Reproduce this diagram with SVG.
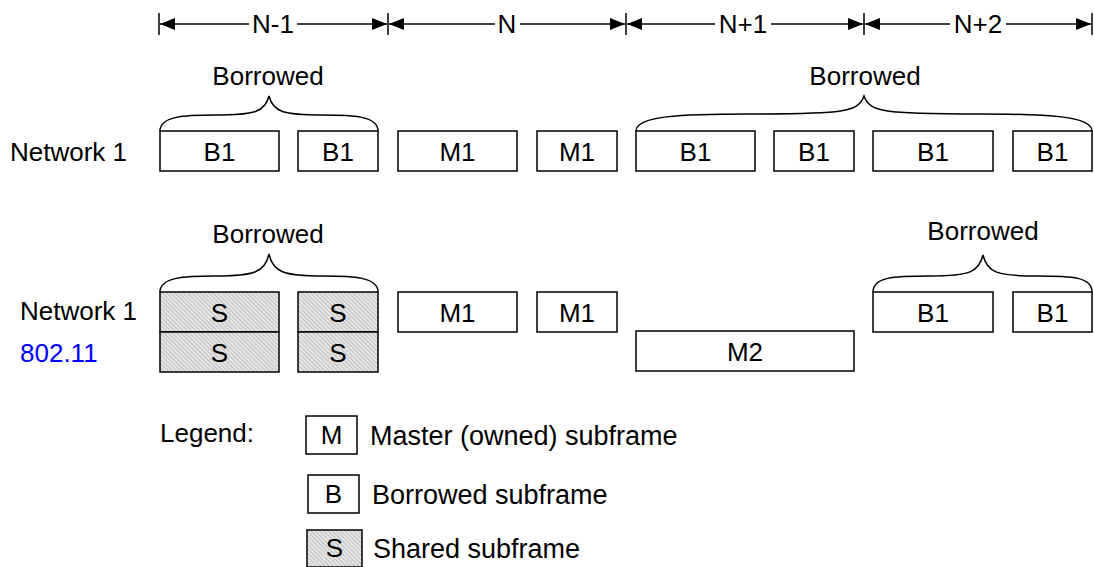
<svg xmlns="http://www.w3.org/2000/svg" width="1094" height="567" viewBox="0 0 1094 567">
<style>
text{font-family:"Liberation Sans",Arial,sans-serif;font-size:26px;fill:#000}
.c{text-anchor:middle}
.lg{font-size:27px}
.box{fill:#fff;stroke:#000;stroke-width:1.5}
.sh{fill:url(#hatch);stroke:#000;stroke-width:1.5}
.br{fill:none;stroke:#000;stroke-width:1.5}
.dim{stroke:#000;stroke-width:1.5;fill:none}
.tick{stroke:#000;stroke-width:1.5}
</style>
<defs>
<pattern id="hatch" patternUnits="userSpaceOnUse" width="3" height="3" patternTransform="rotate(-45)">
<rect width="3" height="3" fill="#e6e6e6"/>
<line x1="0" y1="0" x2="0" y2="3" stroke="#999" stroke-width="1"/>
</pattern>
<marker id="ah" markerWidth="16" markerHeight="14" refX="15" refY="7" orient="auto-start-reverse" markerUnits="userSpaceOnUse">
<path d="M0,1 L15,7 L0,13 Z" fill="#000"/>
</marker>
</defs>

<g id="connectors">
<line class="tick" x1="159" y1="13" x2="159" y2="35"/>
<line class="tick" x1="388" y1="13" x2="388" y2="35"/>
<line class="tick" x1="626" y1="13" x2="626" y2="35"/>
<line class="tick" x1="864" y1="13" x2="864" y2="35"/>
<line class="tick" x1="1092" y1="13" x2="1092" y2="35"/>
<line class="dim" x1="160" y1="24" x2="249" y2="24" marker-start="url(#ah)"/>
<line class="dim" x1="297" y1="24" x2="387" y2="24" marker-end="url(#ah)"/>
<line class="dim" x1="389" y1="24" x2="495" y2="24" marker-start="url(#ah)"/>
<line class="dim" x1="520" y1="24" x2="625" y2="24" marker-end="url(#ah)"/>
<line class="dim" x1="627" y1="24" x2="715" y2="24" marker-start="url(#ah)"/>
<line class="dim" x1="771" y1="24" x2="863" y2="24" marker-end="url(#ah)"/>
<line class="dim" x1="865" y1="24" x2="950" y2="24" marker-start="url(#ah)"/>
<line class="dim" x1="1006" y1="24" x2="1091" y2="24" marker-end="url(#ah)"/>
</g>

<g id="frame-labels">
<text class="c" x="273" y="33">N-1</text>
<text class="c" x="507" y="33">N</text>
<text class="c" x="743" y="33">N+1</text>
<text class="c" x="978" y="33">N+2</text>
</g>

<g id="braces">
<path class="br" d="M160,131 C160,116 185,115 215,115 C255,115 265,112 269,96 C273,112 283,115 323,115 C353,115 378,116 378,131"/>
<text class="c" x="268" y="85">Borrowed</text>
<path class="br" d="M636,131 C636,116 680,114 750,114 C845,114 858,112 864,96 C870,112 883,114 978,114 C1048,114 1092,116 1092,131"/>
<text class="c" x="865" y="85">Borrowed</text>
<path class="br" d="M160,292 C160,277 185,276 215,276 C255,276 265,272 269,254 C273,272 283,276 323,276 C353,276 378,277 378,292"/>
<text class="c" x="268" y="243">Borrowed</text>
<path class="br" d="M873,292 C873,277 893,276 930,276 C970,276 979,272 983,255 C987,272 996,276 1036,276 C1073,276 1092,277 1092,292"/>
<text class="c" x="983" y="240">Borrowed</text>
</g>

<g id="row1">
<text x="10" y="161">Network 1</text>
<g id="r1b1"><rect class="box" x="160" y="131" width="119" height="40"/><text class="c" x="219.5" y="161">B1</text></g>
<g id="r1b2"><rect class="box" x="298" y="131" width="80" height="40"/><text class="c" x="338" y="161">B1</text></g>
<g id="r1m1"><rect class="box" x="398" y="131" width="119" height="40"/><text class="c" x="457.5" y="161">M1</text></g>
<g id="r1m2"><rect class="box" x="537" y="131" width="80" height="40"/><text class="c" x="577" y="161">M1</text></g>
<g id="r1b3"><rect class="box" x="636" y="131" width="119" height="40"/><text class="c" x="695.5" y="161">B1</text></g>
<g id="r1b4"><rect class="box" x="774" y="131" width="80" height="40"/><text class="c" x="814" y="161">B1</text></g>
<g id="r1b5"><rect class="box" x="873" y="131" width="120" height="40"/><text class="c" x="933" y="161">B1</text></g>
<g id="r1b6"><rect class="box" x="1013" y="131" width="79" height="40"/><text class="c" x="1052.5" y="161">B1</text></g>
</g>

<g id="row2">
<text x="20" y="320">Network 1</text>
<text x="20" y="362" style="fill:#0000ff">802.11</text>
<g id="r2s1"><rect class="sh" x="160" y="292" width="119" height="40"/><text class="c" x="219.5" y="322">S</text></g>
<g id="r2s2"><rect class="sh" x="298" y="292" width="80" height="40"/><text class="c" x="338" y="322">S</text></g>
<g id="r2s3"><rect class="sh" x="160" y="332" width="119" height="40"/><text class="c" x="219.5" y="362">S</text></g>
<g id="r2s4"><rect class="sh" x="298" y="332" width="80" height="40"/><text class="c" x="338" y="362">S</text></g>
<g id="r2m1"><rect class="box" x="398" y="292" width="119" height="40"/><text class="c" x="457.5" y="322">M1</text></g>
<g id="r2m2"><rect class="box" x="537" y="292" width="80" height="40"/><text class="c" x="577" y="322">M1</text></g>
<g id="r2m3"><rect class="box" x="636" y="331" width="218" height="40"/><text class="c" x="745" y="361">M2</text></g>
<g id="r2b1"><rect class="box" x="873" y="292" width="120" height="40"/><text class="c" x="933" y="322">B1</text></g>
<g id="r2b2"><rect class="box" x="1013" y="292" width="79" height="40"/><text class="c" x="1052.5" y="322">B1</text></g>
</g>

<g id="legend">
<text x="160" y="442">Legend:</text>
<g id="lg-m"><rect class="box" x="306" y="416" width="51" height="38"/><text class="c" x="331.5" y="444">M</text><text class="lg" x="370" y="445">Master (owned) subframe</text></g>
<g id="lg-b"><rect class="box" x="308" y="475" width="51" height="38"/><text class="c" x="333.5" y="503">B</text><text class="lg" x="372" y="504">Borrowed subframe</text></g>
<g id="lg-s"><rect class="sh" x="307" y="530" width="55" height="37"/><text class="c" x="334.5" y="557">S</text><text class="lg" x="373" y="558">Shared subframe</text></g>
</g>
</svg>
